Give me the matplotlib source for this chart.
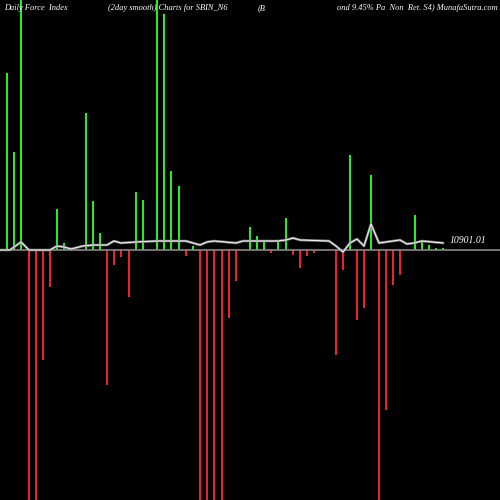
import numpy as np
import matplotlib.pyplot as plt

# day positions and bar heights (force index, scaled)
green_x = [7, 14, 21, 57, 64, 86, 93, 100, 136, 143, 157, 164, 171, 179, 193,
           250, 257, 264, 278, 286, 350, 371, 415, 422, 429, 436, 443]
green_v = [177, 98, 250, 41, 7, 137, 49, 17, 58, 50, 250, 236, 79, 64, 4,
           23, 14, 10, 10, 32, 95, 75, 35, 10, 5, 2, 2]
red_x = [29, 36, 43, 50, 107, 114, 121, 129, 186, 200, 207, 214, 222, 229, 236,
         271, 293, 300, 307, 314, 336, 343, 357, 364, 379, 386, 393, 400]
red_v = [-250, -250, -110, -37, -135, -15, -7, -47, -6, -250, -250, -250, -250, -68, -31,
         -3, -5, -18, -6, -3, -105, -20, -70, -58, -250, -160, -35, -25]

# 2 day smooth line
line_x = [0, 10, 21, 29, 50, 57, 64, 71, 83, 93, 107, 114, 121, 136, 157, 179, 186,
          200, 207, 214, 236, 243, 250, 278, 286, 293, 300, 329, 336, 343, 350, 357,
          364, 371, 379, 386, 400, 407, 414, 422, 443]
line_v = [0, 0, 8, 0, 0, 4, 3, 1, 4, 5, 5, 9, 7, 8, 9, 9, 9, 5, 8, 9, 7, 9, 9, 9,
          10, 12, 10, 9, 4, -2, 7, 11, 4, 26, 7, 8, 10, 6, 7, 9, 7]

fig = plt.figure(figsize=(5, 5), dpi=100, facecolor='black')
ax = fig.add_axes([0, 0, 1, 1])
ax.set_facecolor('black')
ax.bar(green_x, green_v, width=2.2, color='#22ee22')
ax.bar(red_x, red_v, width=2.2, color='#ee2222')
ax.axhline(0, color='#888888', lw=1.2)
ax.plot(line_x, line_v, color='#888888', lw=1.8)
ax.plot(line_x, line_v, color='white', lw=0.6)
ax.text(450, 7, '10901.01', color='white', fontsize=7, family='Liberation Serif', style='italic')

tf = dict(color='white', fontsize=6, family='Liberation Serif', style='italic', va='top')
ax.text(4, 246, 'Daily Force  Index', **tf)
ax.text(108, 246, '(2day smooth) Charts for SBIN_N6', **tf)
ax.text(258, 246, '(B', **tf)
ax.text(498, 246, 'ond 9.45% Pa  Non  Ret. S4) MunafaSutra.com', ha='right', **tf)

ax.set_xlim(0, 500)
ax.set_ylim(-250, 250)
ax.axis('off')
fig.savefig('out.png', dpi=100, facecolor='black')
